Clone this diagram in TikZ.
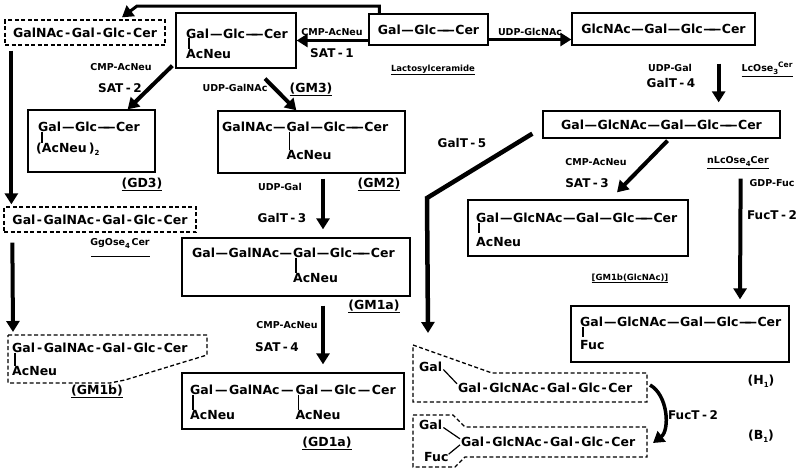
\documentclass[tikz,border=0pt]{standalone}
\usepackage{fontspec}
\setmainfont{DejaVu Sans}
\usetikzlibrary{arrows.meta,positioning,calc}

% glycosidic bonds
\newcommand{\bd}{\kern0.5pt---\kern0.5pt}
\newcommand{\bdc}{\kern0.5pt---\kern-7pt---\kern0.5pt}
\newcommand{\bds}{\kern1.5pt---\kern1.5pt}
\newcommand{\hy}{\kern1.5pt-\kern1.5pt}
\newcommand{\sbs}[1]{\raisebox{-3pt}{\fontsize{7}{8}\selectfont #1}}
\newcommand{\en}[2]{#1\kern2.5pt-\kern2.5pt#2}
% thick underline for names
\newsavebox{\ulbox}
\newcommand{\uln}[1]{\sbox{\ulbox}{#1}\rlap{\rule[\dimexpr-\dp\ulbox-2pt\relax]{\wd\ulbox}{1pt}}\usebox{\ulbox}}

\begin{document}
\begin{tikzpicture}[x=1pt, y=-1pt,
  sugar/.style={inner sep=0pt, font=\fontsize{12.5}{15}\selectfont\bfseries},
  cofac/.style={inner sep=0pt, font=\fontsize{9.5}{11}\selectfont\bfseries},
  enzyme/.style={inner sep=0pt, font=\fontsize{12}{14}\selectfont\bfseries},
  gname/.style={inner sep=0pt, font=\fontsize{12.5}{14}\selectfont\bfseries},
  box/.style={draw, line width=1.3pt, inner sep=0pt},
  dbox/.style={box, dash pattern=on 4pt off 2.5pt},
  dline/.style={line width=1.3pt, dash pattern=on 4pt off 2.5pt},
  tick/.style={line width=1.2pt},
  arr/.style={line width=4pt, -{Triangle[width=13pt,length=11pt]}},
]
\useasboundingbox (0,0) rectangle (802,469);

% lactosylceramide and the first step
\node[box, sugar, minimum width=119pt, minimum height=31pt] (lac) at (428.5,29.5) {Gal\bd Glc\bdc Cer};
\node[cofac, anchor=base] (lacname) at (433,71) {\fontsize{8.5}{10}\selectfont\uln{Lactosylceramide}};
\node[box, sugar, minimum width=183pt, minimum height=32pt] (glcnac) at (663.5,29) {GlcNAc\bd Gal\bd Glc\bdc Cer};
\node[dbox, sugar, minimum width=160pt, minimum height=25pt] (galnac) at (85,32.5) {GalNAc\hy Gal\hy Glc\hy Cer};
\node[box, sugar, minimum width=237pt, minimum height=27pt] (nlc) at (661.5,124.5) {Gal\bd GlcNAc\bd Gal\bd Glc\bdc Cer};

% GM3
\node[box, minimum width=120pt, minimum height=55pt] (gm3) at (236,40.5) {};
\node[sugar, anchor=base west] (gm3g) at (186,38) {Gal};
\node[sugar, base right=0pt of gm3g] (gm3r) {\bd Glc\bdc Cer};
\node[sugar, anchor=base west] (gm3n) at (186,58.5) {AcNeu};
\draw[tick] ($(gm3g.base west)+(3,0)$) -- +(0,11);
\node[gname, anchor=base] (gm3lab) at (311,92) {\uln{(GM3)}};

% GD3
\node[box, minimum width=127pt, minimum height=62pt] (gd3) at (91.5,141) {};
\node[sugar, anchor=base west] (gd3g) at (38,131.5) {Gal};
\node[sugar, base right=0pt of gd3g] (gd3r) {\bd Glc\bdc Cer};
\node[sugar, anchor=base west] (gd3n) at (36,152) {(AcNeu\,)\sbs{2}};
\draw[tick] ($(gd3g.base west)+(4,0)$) -- +(0,11);
\node[gname, anchor=base] (gd3lab) at (142,187) {\uln{(GD3)}};

% GM2
\node[box, minimum width=187pt, minimum height=62pt] (gm2) at (311.5,142) {};
\node[sugar, anchor=base west] (gm2a) at (222,131.5) {GalNAc\bd};
\node[sugar, base right=0pt of gm2a] (gm2g) {Gal};
\node[sugar, base right=0pt of gm2g] (gm2r) {\bd Glc\bdc Cer};
\node[sugar, anchor=base west] (gm2n) at ($(gm2g.base west)+(0,28)$) {AcNeu};
\draw[tick] ($(gm2g.base west)+(3,0)$) -- +(0,18);
\node[gname, anchor=base] (gm2lab) at (379,187) {\uln{(GM2)}};

% GgOse4Cer
\node[dbox, sugar, minimum width=192pt, minimum height=25pt] (gg) at (100,219.5) {Gal\hy GalNAc\hy Gal\hy Glc\hy Cer};
\node[cofac, anchor=base] (gglab) at (120,245.5) {GgOse\sbs{4}\,Cer};
\draw[line width=1pt] ($(gglab.south west)+(1,8)$) -- ($(gglab.south east)+(0,8)$);

% GM1a
\node[box, minimum width=228pt, minimum height=58pt] (gm1a) at (296,267) {};
\node[sugar, anchor=base west] (gm1aa) at (192,257.5) {Gal\bd GalNAc\bd};
\node[sugar, base right=0pt of gm1aa] (gm1ag) {Gal};
\node[sugar, base right=0pt of gm1ag] (gm1ar) {\bd Glc\bdc Cer};
\node[sugar, anchor=base west] (gm1an) at ($(gm1ag.base west)+(0,25)$) {AcNeu};
\draw[tick] ($(gm1ag.base west)+(3,0)$) -- +(0,15.5);
\node[gname, anchor=base] (gm1alab) at (374,309) {\uln{(GM1a)}};

% GM1b
\coordinate (gm1b-nw) at (8,335);
\draw[dline] (gm1b-nw) -- (207,335) -- (207,355) -- (125,380) -- (110,383) -- (8,383) -- cycle;
\node[sugar, anchor=base west] (gm1bg) at (12,352.5) {Gal};
\node[sugar, base right=0pt of gm1bg] (gm1br) {\hy GalNAc\hy Gal\hy Glc\hy Cer};
\node[sugar, anchor=base west] (gm1bn) at (12,375.5) {AcNeu};
\draw[tick] ($(gm1bg.base west)+(3,0)$) -- +(0,13.5);
\node[gname, anchor=base] (gm1blab) at (97,394) {\uln{(GM1b)}};

% GD1a
\node[box, minimum width=222pt, minimum height=56pt] (gd1a) at (293,401) {};
\node[sugar, anchor=base west] (gd1ag) at (190,394.5) {Gal};
\node[sugar, base right=0pt of gd1ag] (gd1aa) {\bds GalNAc\bds};
\node[sugar, base right=0pt of gd1aa] (gd1ah) {Gal};
\node[sugar, base right=0pt of gd1ah] (gd1ar) {\bds Glc\bds Cer};
\node[sugar, anchor=base west] (gd1an) at ($(gd1ag.base west)+(0,25)$) {AcNeu};
\node[sugar, anchor=base west] (gd1am) at ($(gd1ah.base west)+(0,25)$) {AcNeu};
\draw[tick] ($(gd1ag.base west)+(3,0)$) -- +(0,15.5);
\draw[tick] ($(gd1ah.base west)+(3,0)$) -- +(0,15.5);
\node[gname, anchor=base] (gd1alab) at (327,446) {\uln{(GD1a)}};

% sialyl nLcOse4Cer
\node[box, minimum width=220pt, minimum height=56pt] (sat3p) at (578,228) {};
\node[sugar, anchor=base west] (s3g) at (476,222.5) {Gal};
\node[sugar, base right=0pt of s3g] (s3r) {\bd GlcNAc\bd Gal\bd Glc\bdc Cer};
\node[sugar, anchor=base west] (s3n) at (476,246.5) {AcNeu};
\draw[tick] ($(s3g.base west)+(3,0)$) -- +(0,10.5);
\node[cofac, anchor=base] (gm1bglc) at (630,280) {\fontsize{8.5}{10}\selectfont\uln{[GM1b(GlcNAc)]}};

% H1
\node[box, minimum width=218pt, minimum height=56pt] (h1) at (680,334) {};
\node[sugar, anchor=base west] (h1g) at (580,326.5) {Gal};
\node[sugar, base right=0pt of h1g] (h1r) {\bd GlcNAc\bd Gal\bd Glc\bdc Cer};
\node[sugar, anchor=base west] (h1n) at (580,349.5) {Fuc};
\draw[tick] ($(h1g.base west)+(3,0)$) -- +(0,10.5);
\node[gname, anchor=base] (h1lab) at (761,384) {(H\sbs{1})};

% branched Gal and B1
\coordinate (gb-nw) at (413,345);
\coordinate (gb-se) at (647,402);
\draw[dline] (gb-nw) -- (492,373) -- (647,373) -- (gb-se) -- (413,402) -- cycle;
\node[sugar, anchor=base west] (gbg) at (419,371.5) {Gal};
\node[sugar, anchor=base west] (gbc) at (458,392.5) {Gal\hy GlcNAc\hy Gal\hy Glc\hy Cer};
\draw[tick] ($(gbg.base east)+(1,-2)$) -- ($(gbc.north west)+(-1,1)$);

\coordinate (b1-ne) at (647,427);
\draw[dline] (413,415) -- (453,415) -- (465,427) -- (b1-ne) -- (647,457) -- (465,457) -- (455,467) -- (413,467) -- cycle;
\node[sugar, anchor=base west] (b1g) at (419,429.5) {Gal};
\node[sugar, anchor=base west] (b1f) at (424,461.5) {Fuc};
\node[sugar, anchor=base west] (b1c) at (461,446.5) {Gal\hy GlcNAc\hy Gal\hy Glc\hy Cer};
\draw[tick] ($(b1g.base east)+(1,-2)$) -- ($(b1c.west)+(-1,-3)$);
\draw[tick] ($(b1f.north east)+(0,2)$) -- ($(b1c.west)+(-1,3)$);
\node[gname, anchor=base] (b1lab) at (761,439) {(B\sbs{1})};

% reactions
\draw[arr, line width=3pt] ($(lac.north west)+(11,0)$) |- (137,6) -- ($(galnac.north)+(37,-2)$);
\draw[arr, line width=3pt] ($(lac.west)+(0,11)$) -- (gm3.east);
\node[cofac, anchor=base] (cmp1) at (332,35) {CMP-AcNeu};
\node[enzyme, anchor=base] (sat1) at (332,57) {\en{SAT}{1}};
\draw[arr, line width=3pt] ($(lac.east)+(0,10)$) -- ($(glcnac.west)+(0,10.5)$);
\node[cofac, anchor=base] (udpglcnac) at (530,35) {UDP-GlcNAc};

\draw[arr] ($(glcnac.south east)+(-37,18)$) -- ($(nlc.north east)+(-62,-8)$);
\node[cofac, anchor=base] (udpgal1) at (670,71.5) {UDP-Gal};
\node[enzyme, anchor=base] (galt4) at (671,87) {\en{GalT}{4}};
\node[cofac, anchor=base] (lc3) at (767,71.5) {\uln{LcOse\sbs{3}\raisebox{4pt}{\fontsize{7.5}{8}\selectfont Cer}}};

\draw[arr] ($(gm3.south west)+(-3,-3)$) -- ($(gd3.north east)+(-28,0)$);
\node[cofac, anchor=base] (cmp2) at (121,70.5) {CMP-AcNeu};
\node[enzyme, anchor=base] (sat2) at (120,92) {\en{SAT}{2}};

\draw[arr] ($(gm3.south)+(29,10)$) -- ($(gm2.north west)+(79,0)$);
\node[cofac, anchor=base] (udpgalnac) at (235,91.5) {UDP-GalNAc};

\draw[arr] ($(gm2.south)+(11.5,5)$) -- ($(gm1a.north)+(27,-8)$);
\node[cofac, anchor=base] (udpgal2) at (280,190.5) {UDP-Gal};
\node[enzyme, anchor=base] (galt3) at (282,222) {\en{GalT}{3}};

\draw[arr] ($(gm1a.south)+(27,9)$) -- ($(gd1a.north)+(30,-8)$);
\node[cofac, anchor=base] (cmp4) at (287,328.5) {CMP-AcNeu};
\node[enzyme, anchor=base] (sat4) at (277,351) {\en{SAT}{4}};

\draw[arr] ($(galnac.south west)+(7,5)$) -- ($(gg.north west)+(8,-2)$);
\draw[arr] ($(gg.south west)+(9,10)$) -- ($(gm1b-nw)+(5,-3)$);

\draw[arr, line width=4.5pt] ($(nlc.south west)+(-10,-5)$) -- (427,198) -- ($(gb-nw)+(15,-12)$);
\node[enzyme, anchor=base] (galt5) at (462,147) {\en{GalT}{5}};

\draw[arr] ($(nlc.south)+(6,2)$) -- ($(sat3p.north)+(39,-7)$);
\node[cofac, anchor=base] (cmp3) at (596,165.5) {CMP-AcNeu};
\node[enzyme, anchor=base] (sat3) at (587,187) {\en{SAT}{3}};

\draw[arr] ($(nlc.south east)+(-40,40)$) -- ($(h1.north)+(60,-6)$);
\node[cofac, anchor=base] (nlc4) at (738,163.5) {\uln{nLcOse\sbs{4}Cer}};
\node[cofac, anchor=base] (gdpfuc) at (772,186.5) {GDP-Fuc};
\node[enzyme, anchor=base] (fuct2a) at (772,219) {\en{FucT}{2}};

\draw[arr, line width=3.5pt] ($(gb-se)+(3,-17)$) .. controls +(18,10) and +(17,-13) .. ($(b1-ne)+(6,16)$);
\node[enzyme, anchor=base] (fuct2b) at (693,419) {\en{FucT}{2}};
\end{tikzpicture}
\end{document}
